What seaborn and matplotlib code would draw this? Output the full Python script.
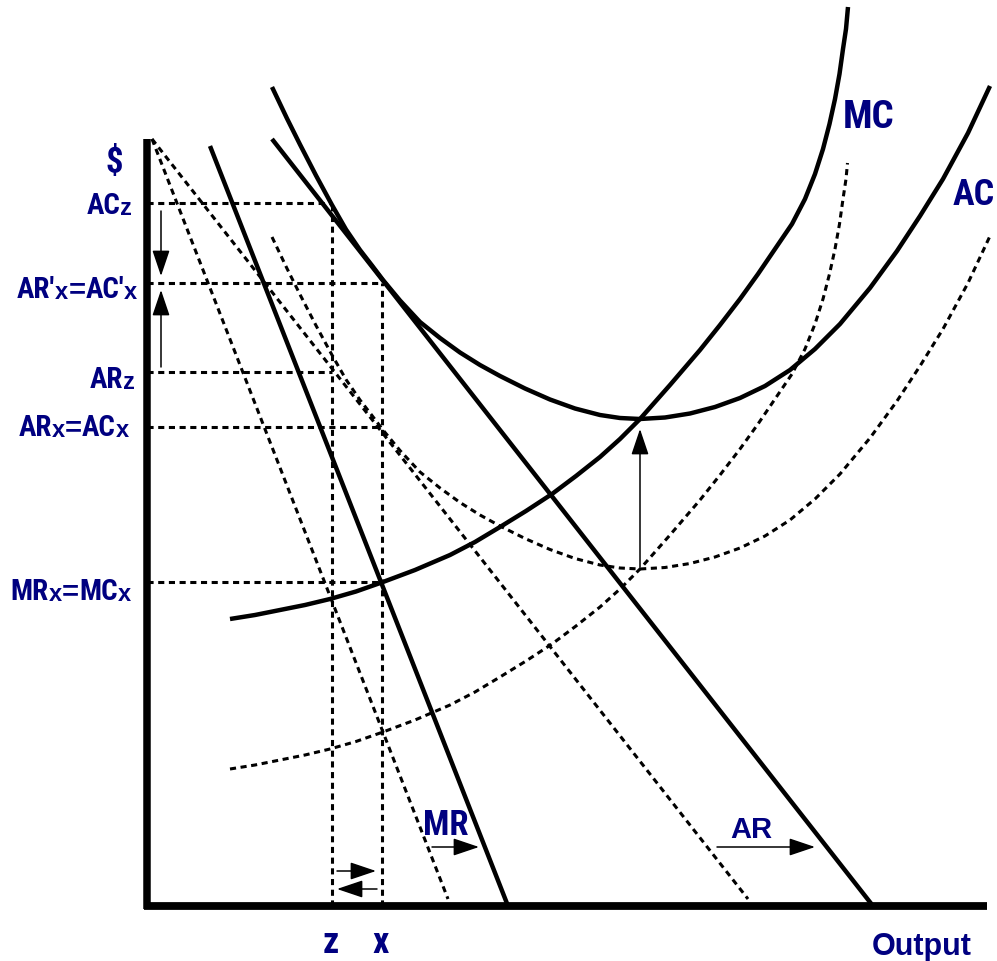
import os
import matplotlib
matplotlib.use('Agg')
import matplotlib.pyplot as plt
from matplotlib import font_manager as fm
import seaborn as sns

sns.set_style('white')

NAVY = '#000080'
REGULAR = ['Liberation Sans', 'DejaVu Sans']

# curves (output, price)
mc_out = [83, 108, 133, 158, 183, 209, 236, 268, 303, 328, 353, 379, 405, 429, 453, 473, 493,
          523, 553, 573, 593, 611, 628, 645, 658, 668, 676, 682.5, 688, 692.5, 696, 699, 701]
mc_price = [287, 291, 296, 301, 307, 314.5, 324, 336, 351, 364, 379, 395, 412, 430, 449, 467, 487,
            521, 556, 581, 607, 632, 657, 682, 707, 732, 757, 782, 807, 832, 857, 877, 899]

mc_old_out = [83, 108, 133, 158, 183, 209, 236, 268, 303, 328, 353, 379, 405, 429, 453, 473, 493,
              523, 553, 573, 593, 611, 628, 645, 658, 668, 676, 682.5, 688, 692.5, 696, 699, 700.5]
mc_old_price = [137, 141, 146, 151, 157, 164.5, 174, 186, 201, 214, 229, 245, 262, 280, 299, 317, 337,
                371, 406, 431, 457, 482, 507, 532, 557, 582, 607, 632, 657, 682, 707, 727, 743]

ac_out = [125, 140, 153, 169, 185, 199, 213, 225, 236, 253, 273, 293, 313, 333, 353, 378, 403, 428,
          453, 473, 493, 518, 543, 568, 593, 618, 643, 668, 693, 723, 750, 773, 796, 821, 843]
ac_price = [819, 787.5, 761.5, 730.5, 701, 676.5, 656, 640.5, 626, 605.5, 584, 568, 553.5, 541, 530,
            517.5, 506.5, 497.5, 491, 488, 487, 488.5, 492.5, 499, 508, 520, 536, 557, 582, 618,
            655, 690, 727, 773, 820]

ac_old_out = [125, 140, 153, 169, 185, 199, 213, 225, 236, 253, 273, 293, 313, 333, 353, 378, 403, 428,
              453, 473, 493, 518, 543, 568, 593, 618, 643, 668, 693, 723, 750, 773, 796, 821, 843]
ac_old_price = [669, 637.5, 611.5, 580.5, 551, 526.5, 506, 490.5, 476, 455.5, 434, 418, 403.5, 391,
                380, 367.5, 356.5, 347.5, 341, 338, 337, 338.5, 342.5, 349, 358, 370, 386, 407, 432,
                468, 505, 540, 577, 623, 670]

ar_out = [125, 726]
ar_price = [767, 0]
mr_out = [63, 361]
mr_price = [760, 0]
ar_old_out = [5, 601]
ar_old_price = [767, 7]
mr_old_out = [5, 301]
mr_old_price = [767, 7]

# guide levels on the price axis and where they stop
guide_price = [703, 623, 534, 479, 324]
guide_end = [185, 235, 185, 235, 235]
z_out, x_out = 185, 235

# arrows: (tail, tip)
arrows = [((14, 695), (14, 630)),
          ((14, 539), (14, 616)),
          ((493, 339), (493, 477)),
          ((190, 35), (229, 35)),
          ((230, 17), (190, 17)),
          ((285, 59), (332, 59)),
          ((570, 59), (668, 59))]


def find_narrow():
    """Look for an installed condensed bold sans."""
    tries = [('Liberation Sans Narrow', 'normal'), ('Arial Narrow', 'normal'),
             ('Roboto Condensed', 'normal'), ('Noto Sans Condensed', 'normal'),
             ('Open Sans Condensed', 'normal'), ('Noto Sans', 'condensed'),
             ('Roboto', 'condensed'), ('Open Sans', 'condensed')]
    for fam, stretch in tries:
        prop = fm.FontProperties(family=fam, weight='bold', stretch=stretch)
        try:
            path = fm.findfont(prop, fallback_to_default=False)
        except ValueError:
            continue
        name = os.path.basename(path).lower()
        if 'narrow' in name or 'cond' in name:
            return dict(family=[fam, 'Liberation Sans', 'DejaVu Sans'], stretch=stretch)
    return None


narrow = find_narrow()
if narrow is not None:
    N = narrow
    size = dict(main=21, sub=17, mc=28, ac=26, mr=25, zx=26, dollar=25)
else:
    N = dict(family=REGULAR)
    size = dict(main=19, sub=15, mc=24, ac=21, mr=23, zx=24, dollar=23)
R = dict(family=REGULAR)

fig = plt.figure(figsize=(9.97, 9.62), dpi=100)
ax = fig.add_axes([0, 0, 1, 1])
ax.set_xlim(-147, 850)
ax.set_ylim(-55, 907)
ax.axis('off')

dash = (0, (2, 1.5))
solid_lw = 3.2
dash_lw = 2.2

# old (dashed) curves
for xs, ys in [(mc_old_out, mc_old_price), (ac_old_out, ac_old_price),
               (ar_old_out, ar_old_price), (mr_old_out, mr_old_price)]:
    sns.lineplot(x=xs, y=ys, sort=False, estimator=None, color='black',
                 lw=dash_lw, linestyle=dash, ax=ax)

# guide lines
ax.hlines(guide_price, 0, guide_end, colors='black', lw=dash_lw, linestyles=dash)
ax.vlines([z_out, x_out], 0, [guide_price[0], guide_price[1]], colors='black',
          lw=dash_lw, linestyles=dash)

# new (solid) curves
for xs, ys in [(mc_out, mc_price), (ac_out, ac_price),
               (ar_out, ar_price), (mr_out, mr_price)]:
    sns.lineplot(x=xs, y=ys, sort=False, estimator=None, color='black',
                 lw=solid_lw, ax=ax, solid_capstyle='butt')

# axes
ax.plot([0, 0], [-3, 767], color='black', lw=5.4, solid_capstyle='butt')
ax.plot([-3, 840], [0, 0], color='black', lw=5.6, solid_capstyle='butt')

for tail, tip in arrows:
    ax.annotate('', xy=tip, xytext=tail,
                arrowprops=dict(arrowstyle='-|>,head_length=1.6,head_width=0.54',
                                mutation_scale=10, lw=1.1, color='black',
                                shrinkA=0, shrinkB=0))


def right_label(pieces, x, y):
    txt, fs, font = pieces[-1]
    art = ax.text(x, y, txt, ha='right', va='baseline', fontsize=fs,
                  weight='bold', color=NAVY, **font)
    for txt, fs, font in reversed(pieces[:-1]):
        art = ax.annotate(txt, xy=(0, 0), xycoords=art, ha='right', va='bottom',
                          fontsize=fs, weight='bold', color=NAVY, **font)


m, s = size['main'], size['sub']
right_label([("AC", m, N), ("z", s, R)], -15, 692)
right_label([("AR'", m, N), ("x", s, R), ("=", m, R), ("AC'", m, N), ("x", s, R)], -10, 608)
right_label([("AR", m, N), ("z", s, R)], -12, 518)
right_label([("AR", m, N), ("x", s, R), ("=", m, R), ("AC", m, N), ("x", s, R)], -18, 470)
right_label([("MR", m, N), ("x", s, R), ("=", m, R), ("MC", m, N), ("x", s, R)], -16, 306)

txt = dict(weight='bold', color=NAVY, va='baseline')
ax.text(-33, 744, '$', fontsize=size['dollar'], ha='center', weight='bold',
        color=NAVY, va='center', **N)
ax.text(184, -46, 'z', fontsize=size['zx'], ha='center', **txt, **N)
ax.text(234, -46, 'x', fontsize=size['zx'], ha='center', **txt, **N)
ax.text(725, -48, 'Output', fontsize=22, ha='left', **txt, **R)
ax.text(276, 72, 'MR', fontsize=size['mr'], ha='left', **txt, **N)
ax.text(583, 69, 'AR', fontsize=21, ha='left', **txt, **R)
ax.text(696, 779, 'MC', fontsize=size['mc'], ha='left', **txt, **N)
ax.text(806, 702, 'AC', fontsize=size['ac'], ha='left', **txt, **N)

fig.savefig('out.png', dpi=100)
